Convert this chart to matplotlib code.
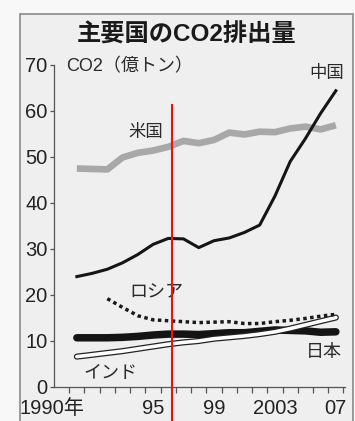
import numpy as np
import matplotlib
matplotlib.use("Agg")
import matplotlib.pyplot as plt
from matplotlib.patches import Rectangle
from matplotlib.transforms import ScaledTranslation

plt.rcParams['font.family'] = ['Liberation Sans', 'Noto Sans CJK JP', 'DejaVu Sans']

# emissions, 100 million tonnes CO2
years = np.arange(1990, 2008)
china = [24.0, 24.7, 25.6, 27.0, 28.8, 31.0, 32.3, 32.2, 30.3, 31.8,
         32.4, 33.6, 35.2, 41.5, 49.0, 54.0, 59.5, 64.4]
usa = [47.5, 47.4, 47.3, 49.9, 50.9, 51.4, 52.2, 53.5, 53.0, 53.7,
       55.3, 54.9, 55.5, 55.4, 56.2, 56.6, 56.0, 56.9]
japan = [10.7, 10.7, 10.7, 10.8, 11.0, 11.3, 11.5, 11.5, 11.4, 11.6,
         11.8, 11.8, 12.1, 12.4, 12.3, 12.2, 11.9, 12.0]
india = [6.6, 7.0, 7.4, 7.8, 8.3, 8.8, 9.3, 9.7, 10.0, 10.5,
         10.8, 11.1, 11.5, 12.0, 12.7, 13.5, 14.3, 15.1]
russia_years = np.arange(1992, 2008)
russia = [19.2, 17.3, 15.5, 14.6, 14.4, 14.2, 14.0, 14.1, 14.2, 13.8,
          13.8, 14.2, 14.5, 14.9, 15.4, 15.8]

tick_years = [1990, 1995, 1999, 2003, 2007]
tick_labels = ['1990年', '95', '99', '2003', '07']

W, H = 355, 421
fig = plt.figure(figsize=(W / 100, H / 100), dpi=100)
fig.patch.set_facecolor('#f8f8f8')

# outer box of the graphic
fig.patches.append(Rectangle((20 / W, -0.05), 333 / W, (H - 14) / H + 0.05,
                             transform=fig.transFigure, facecolor='#efefef',
                             edgecolor='#8a8a8a', lw=1.2, zorder=-5))

ax = fig.add_axes([54 / W, 34 / H, 291 / W, 322 / H])
ax.set_facecolor('none')

ax.plot(years, usa, color='#a8a8a8', lw=4.8, solid_capstyle='butt', zorder=2)
ax.plot(years, china, color='#151515', lw=2.2, zorder=3)
ax.plot(years, japan, color='#141414', lw=5.4, solid_capstyle='round', zorder=3)
ax.plot(years, india, color='#222222', lw=4.4, solid_capstyle='round', zorder=4)
ax.plot(years, india, color='white', lw=2.6, solid_capstyle='round', zorder=4)
ax.plot(russia_years, russia, color='#1a1a1a', lw=2.5, linestyle=(0, (1, 1)), zorder=5)

ax.set_xlim(1988.5, 2007.6)
ax.set_ylim(0, 70)
for s in ['top', 'right']:
    ax.spines[s].set_visible(False)
for s in ['left', 'bottom']:
    ax.spines[s].set_color('#555555')
    ax.spines[s].set_linewidth(0.9)

ax.set_yticks(range(0, 71, 10))
ax.tick_params(axis='y', length=3, width=0.9, color='#555555', pad=1.5,
               labelsize=14.5, labelcolor='#222222')
ax.set_xticks(tick_years)
ax.set_xticklabels(tick_labels)
ax.set_xticks(np.arange(1989.5, 2008, 1), minor=True)
ax.tick_params(axis='x', which='major', length=0, pad=9, labelsize=14.5, labelcolor='#222222')
ax.tick_params(axis='x', which='minor', length=4.5, width=0.9, color='#555555')
first = ax.get_xticklabels()[0]
first.set_horizontalalignment('right')
first.set_transform(first.get_transform() + ScaledTranslation(8 / 100, 0, fig.dpi_scale_trans))

tc = '#2a2a2a'
ax.text(1989.3, 69.6, 'CO2（億トン）', fontsize=13, color=tc, va='center', ha='left')
ax.text(2006.4, 68.3, '中国', fontsize=12.5, color=tc, va='center', ha='center')
ax.text(1994.5, 55.4, '米国', fontsize=12.5, color=tc, va='center', ha='center')
ax.text(1995.2, 20.4, 'ロシア', fontsize=13, color=tc, va='center', ha='center')
ax.text(2006.2, 7.6, '日本', fontsize=13, color=tc, va='center', ha='center')
ax.text(1992.2, 3.0, 'インド', fontsize=13, color=tc, va='center', ha='center')

fig.text(187 / W, 1 - 35 / H, '主要国のCO2排出量', fontsize=17.5, fontweight='bold',
         color='#1a1a1a', ha='center', va='center')

# red marker line
ax.plot([1996.25, 1996.25], [61.3, -7.6], color='#ee1111', lw=1.5, clip_on=False, zorder=6)

fig.savefig('out.png', dpi=100, facecolor=fig.get_facecolor())
